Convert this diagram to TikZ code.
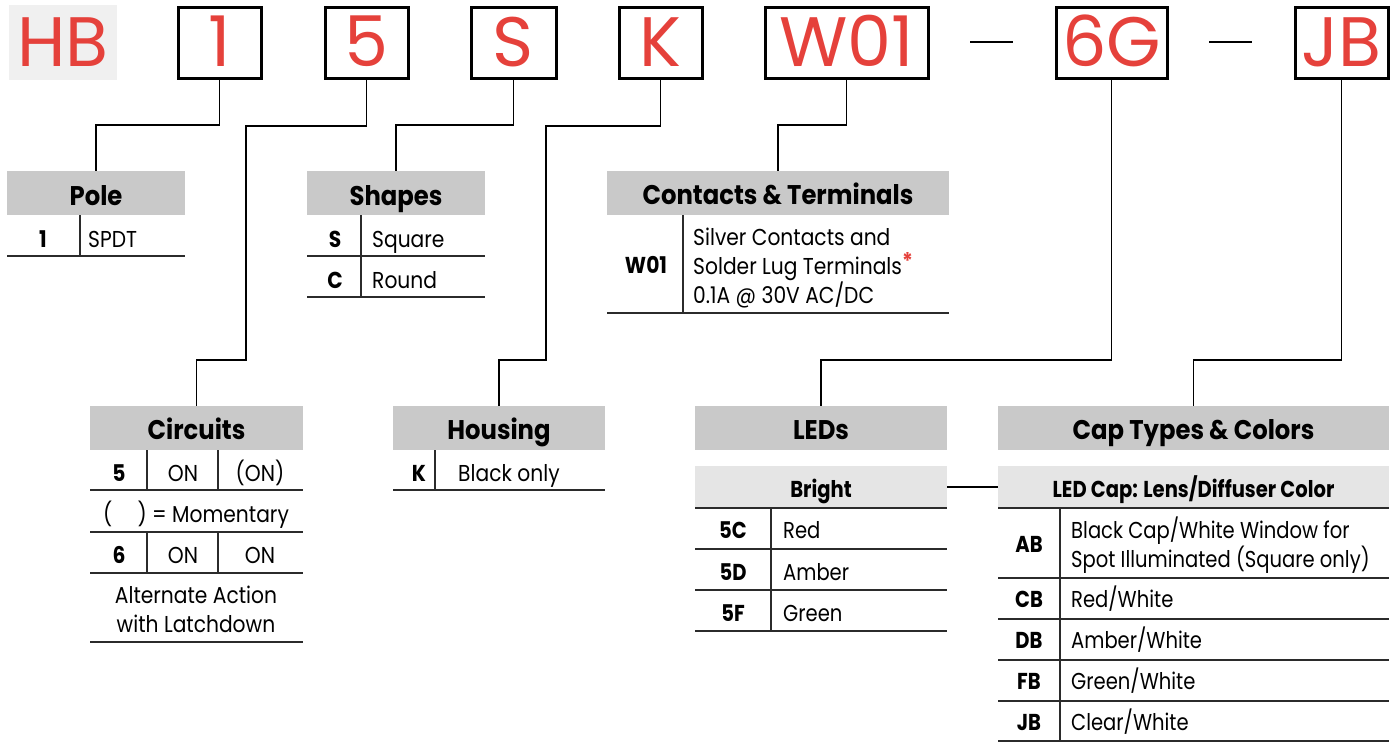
\documentclass[tikz,border=0pt]{standalone}
\usepackage{fontspec}
\setmainfont{Poppins}[FakeStretch=0.88]
\newfontfamily\condfont{Poppins}[FakeStretch=0.85]
\newfontfamily\hdrfont{Poppins}[FakeStretch=0.9]
\newfontfamily\titlefont{Poppins}[FakeStretch=1.0]
\definecolor{codered}{HTML}{E5413B}
\definecolor{hdrgray}{HTML}{C9C9C9}
\definecolor{subgray}{HTML}{E5E5E5}
\definecolor{hbgray}{HTML}{F0F0F0}
\definecolor{rule}{HTML}{2B2B2B}
\begin{document}
\begin{tikzpicture}[x=1pt,y=-1pt,
  code/.style={draw=black, line width=3pt, minimum height=71pt, inner sep=0pt},
  ctext/.style={anchor=base, inner sep=0pt, text=codered, font=\titlefont\fontsize{70}{70}\selectfont},
  hdr/.style={fill=hdrgray, minimum height=44pt, inner sep=0pt},
  sub/.style={fill=subgray, minimum height=42pt, inner sep=0pt},
  htext/.style={anchor=base, inner sep=0pt, font=\hdrfont\fontsize{27}{27}\selectfont\bfseries},
  stext/.style={anchor=base, inner sep=0pt, font=\condfont\fontsize{23}{23}\selectfont\bfseries},
  key/.style={anchor=base, inner sep=0pt, font=\fontsize{23}{23}\selectfont\bfseries},
  val/.style={anchor=base west, inner sep=0pt, font=\fontsize{23}{23}\selectfont},
  cval/.style={anchor=base, inner sep=0pt, font=\fontsize{23}{23}\selectfont},
  ckey/.style={anchor=base, inner sep=0pt, font=\condfont\fontsize{23}{23}\selectfont\bfseries},
  cvalt/.style={anchor=base west, inner sep=0pt, font=\condfont\fontsize{23}{23}\selectfont},
  tline/.style={draw=rule, line width=1.5pt},
  conn/.style={draw=black, line width=1.5pt}
]
\useasboundingbox (0,0) rectangle (1392,742);

% ---------- code line ----------
\node[fill=hbgray, minimum width=108pt, minimum height=75pt, inner sep=0pt] (hbbox) at (63,42.5) {};
\node[ctext] (hb) at (63,66) {HB};
\node[code, minimum width=83pt] (b1) at (219.5,42.5) {};
\node[code, minimum width=83pt] (b5) at (366.5,42.5) {};
\node[code, minimum width=85pt] (bS) at (513.5,42.5) {};
\node[code, minimum width=83pt] (bK) at (660.5,42.5) {};
\node[code, minimum width=163pt] (bW) at (846.5,42.5) {};
\node[code, minimum width=111pt] (bG) at (1111.5,42.5) {};
\node[code, minimum width=93pt] (bJ) at (1341.5,42.5) {};
\foreach \n/\t in {b1/1, b5/5, bS/S, bK/K, bW/W01, bG/6G, bJ/JB}{
  \node[ctext] at (\n.center |- 0,66) {\t};
}
\coordinate (d1a) at (970,42);
\coordinate (d1b) at (1013,42);
\coordinate (d2a) at (1209,42);
\coordinate (d2b) at (1252,42);
\draw[line width=2.5pt] (d1a) -- (d1b);
\draw[line width=2.5pt] (d2a) -- (d2b);

% ---------- Pole ----------
\node[hdr, minimum width=178pt] (pole) at (96,193) {};
\node[htext] at (96,205) {Pole};
\node[key] at (43,247) {1};
\node[val] at (88,247) {SPDT};
\draw[tline] (80,215) -- (80,256);
\draw[tline] (7,256) -- (185,256);

% ---------- Shapes ----------
\node[hdr, minimum width=178pt] (shapes) at (396,193) {};
\node[htext] at (396,205) {Shapes};
\node[key] at (335,247) {S};
\node[val] at (372,247) {Square};
\node[key] at (335,288) {C};
\node[val] at (372,288) {Round};
\draw[tline] (361,215) -- (361,297);
\draw[tline] (307,256) -- (485,256);
\draw[tline] (307,297) -- (485,297);

% ---------- Contacts ----------
\node[hdr, minimum width=342pt] (cont) at (778,193) {};
\node[htext] at (778,204) {Contacts \& Terminals};
\node[key] at (646,273) {W01};
\node[val] at (693,245) {Silver Contacts and};
\node[val] at (693,274) {Solder Lug Terminals\raisebox{5pt}{\textcolor{codered}{\bfseries *}}};
\node[val] at (693,303) {0.1A @ 30V AC/DC};
\draw[tline] (683,215) -- (683,313);
\draw[tline] (607,313) -- (949,313);

% ---------- Circuits ----------
\node[hdr, minimum width=213pt] (circ) at (196.5,428) {};
\node[htext] at (196.5,439) {Circuits};
\node[key] at (119,481) {5};
\node[cval] at (183,481) {ON};
\node[cval] at (260,481) {(ON)};
\node[cval] at (196,522) {(\hspace{1.1em}) = Momentary};
\node[key] at (119,563) {6};
\node[cval] at (183,563) {ON};
\node[cval] at (260,563) {ON};
\node[cval] at (196,603) {Alternate Action};
\node[cval] at (196,632) {with Latchdown};
\draw[tline] (147,450) -- (147,490);
\draw[tline] (218,450) -- (218,490);
\draw[tline] (147,532) -- (147,573);
\draw[tline] (218,532) -- (218,573);
\foreach \yy in {490,532,573,642}{\draw[tline] (90,\yy) -- (303,\yy);}

% ---------- Housing ----------
\node[hdr, minimum width=212pt] (hous) at (499,428) {};
\node[htext] at (499,439) {Housing};
\node[key] at (419,481) {K};
\node[val] at (458,481) {Black only};
\draw[tline] (435,450) -- (435,490);
\draw[tline] (393,490) -- (605,490);

% ---------- LEDs ----------
\node[hdr, minimum width=252pt] (leds) at (821,428) {};
\node[htext] at (821,439) {LEDs};
\node[sub, minimum width=252pt] (bright) at (821,487) {};
\node[stext] at (821,497) {Bright};
\node[ckey] at (733,538) {5C};
\node[cvalt] at (783,538) {Red};
\node[ckey] at (733,580) {5D};
\node[cvalt] at (783,580) {Amber};
\node[ckey] at (733,621) {5F};
\node[cvalt] at (783,621) {Green};
\draw[tline] (771,508) -- (771,631);
\draw[draw=rule, line width=2pt] (695,508) -- (947,508);
\foreach \yy in {549,590,631}{\draw[tline] (695,\yy) -- (947,\yy);}

% ---------- Cap Types ----------
\node[hdr, minimum width=391pt] (cap) at (1193.5,428) {};
\node[htext] at (1193.5,439) {Cap Types \& Colors};
\node[sub, minimum width=391pt] (ledcap) at (1193.5,487) {};
\node[stext] at (1193.5,497) {LED Cap: Lens/Diffuser Color};
\node[ckey] at (1029,552) {AB};
\node[cvalt] at (1071,538) {Black Cap/White Window for};
\node[cvalt] at (1071,567) {Spot Illuminated (Square only)};
\node[ckey] at (1029,607) {CB};
\node[cvalt] at (1071,607) {Red/White};
\node[ckey] at (1029,648) {DB};
\node[cvalt] at (1071,648) {Amber/White};
\node[ckey] at (1029,689) {FB};
\node[cvalt] at (1071,689) {Green/White};
\node[ckey] at (1029,730) {JB};
\node[cvalt] at (1071,730) {Clear/White};
\draw[tline] (1060,508) -- (1060,741);
\draw[draw=rule, line width=2pt] (998,508) -- (1389,508);
\foreach \yy in {578,619,660,701,741}{\draw[tline] (998,\yy) -- (1389,\yy);}

% ---------- connectors ----------
\draw[conn] (b1.south) |- ([yshift=46pt]pole.north) -- (pole.north);
\draw[conn] (b5.south) |- (246,126) |- ([yshift=46pt]circ.north) -- (circ.north);
\draw[conn] (bS.south) |- ([yshift=46pt]shapes.north) -- (shapes.north);
\draw[conn] (bK.south) |- (546,126) |- ([yshift=46pt]hous.north) -- (hous.north);
\draw[conn] (bW.south) |- ([yshift=46pt]cont.north) -- (cont.north);
\draw[conn] (bG.south) |- ([yshift=46pt]leds.north) -- (leds.north);
\draw[conn] (bJ.south) |- ([yshift=46pt]cap.north) -- (cap.north);
\draw[conn] (bright.east) -- (ledcap.west);
\end{tikzpicture}
\end{document}
